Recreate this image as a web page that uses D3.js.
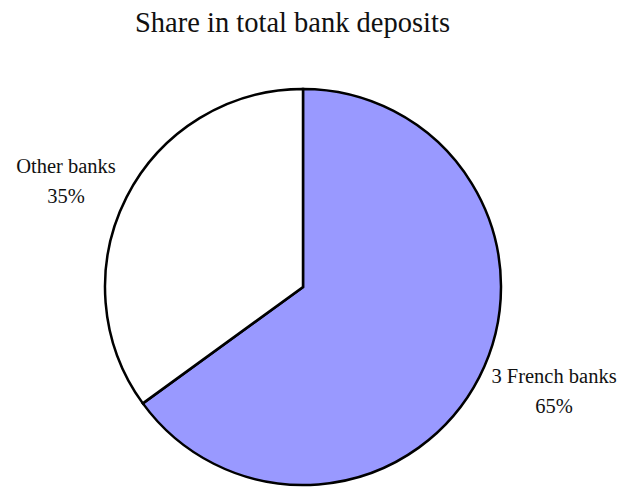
<!DOCTYPE html>
<html>
<head>
<meta charset="utf-8">
<script src="https://cdn.jsdelivr.net/npm/d3@7"></script>
<style>
  html, body { margin: 0; padding: 0; background: #fff; }
  svg { display: block; }
  text { font-family: "Liberation Serif", "Times New Roman", serif; fill: #111; }
</style>
</head>
<body>
<script>
// Deposit share by bank group
const categories = ["3 French banks", "Other banks"];
const shares = [65, 35];
const labels = ["65%", "35%"];
const title = "Share in total bank deposits";

const width = 624, height = 490;
const cx = 303, cy = 287, radius = 198;

const svg = d3.select("body").append("svg")
  .attr("width", width)
  .attr("height", height);

svg.append("text")
  .attr("x", 292.5)
  .attr("y", 32)
  .attr("text-anchor", "middle")
  .style("font-size", "28.5px")
  .text(title);

const color = d3.scaleOrdinal().domain(categories).range(["#9999ff", "#ffffff"]);

const pie = d3.pie().sort(null).value(d => d.value);
const arcs = pie(categories.map((c, i) => ({ name: c, value: shares[i], label: labels[i] })));
const arc = d3.arc().innerRadius(0).outerRadius(radius);

const g = svg.append("g").attr("transform", `translate(${cx},${cy})`);
g.selectAll("path")
  .data(arcs)
  .join("path")
  .attr("d", arc)
  .attr("fill", d => color(d.data.name))
  .attr("stroke", "#000")
  .attr("stroke-width", 2.5)
  .attr("stroke-linejoin", "miter");

// Label positions for each slice (name line + percentage line)
const labelPos = {
  "3 French banks": [554, 383],
  "Other banks": [66, 173]
};
const lab = svg.selectAll("g.lab")
  .data(arcs)
  .join("g")
  .attr("class", "lab")
  .attr("transform", d => `translate(${labelPos[d.data.name][0]},${labelPos[d.data.name][1]})`);
lab.append("text")
  .attr("text-anchor", "middle")
  .style("font-size", "20.5px")
  .text(d => d.data.name);
lab.append("text")
  .attr("text-anchor", "middle")
  .attr("y", 30)
  .style("font-size", "20.5px")
  .text(d => d.data.label);
</script>
</body>
</html>
